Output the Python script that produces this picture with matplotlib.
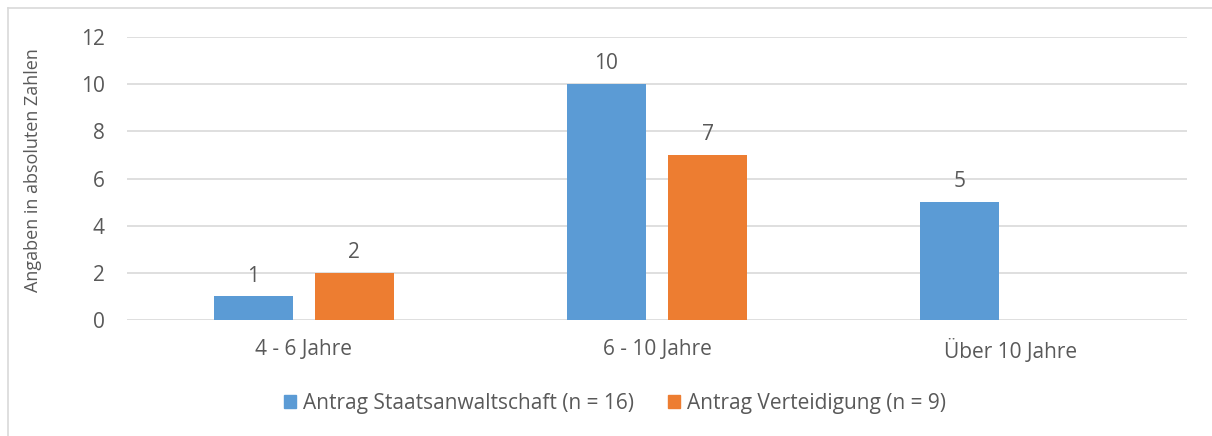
import numpy as np
import matplotlib.pyplot as plt
from matplotlib.lines import Line2D
from matplotlib.patches import Patch

# Data
categories = ["4 - 6 Jahre", "6 - 10 Jahre", "Über 10 Jahre"]
staatsanwaltschaft = [1, 10, 5]
verteidigung = [2, 7, None]
series_names = ["Antrag Staatsanwaltschaft (n = 16)", "Antrag Verteidigung (n = 9)"]
y_ticks = [0, 2, 4, 6, 8, 10, 12]

blue = "#5B9BD5"
orange = "#ED7D31"
text_gray = "#595959"
grid_gray = "#D9D9D9"

plt.rcParams['font.family'] = ['Open Sans', 'DejaVu Sans']

W, H = 1212, 436
fig = plt.figure(figsize=(W / 100, H / 100), dpi=100)
ax = fig.add_axes([127 / W, 1 - 320 / H, (1187 - 127) / W, (320 - 37) / H])

x = np.arange(len(categories))
width = 0.224
offset = 0.143

sa_vals = [v if v is not None else 0 for v in staatsanwaltschaft]
vt_vals = [v if v is not None else 0 for v in verteidigung]
ax.bar(x - offset, sa_vals, width, color=blue, zorder=3)
ax.bar(x + offset, vt_vals, width, color=orange, zorder=3)

# Value labels
for xi, v in zip(x, staatsanwaltschaft):
    if v is not None:
        ax.annotate(str(v), (xi - offset, v), xytext=(0, 7), textcoords="offset points",
                    ha="center", va="bottom", fontsize=15, color=text_gray)
for xi, v in zip(x, verteidigung):
    if v is not None:
        ax.annotate(str(v), (xi + offset, v), xytext=(0, 7), textcoords="offset points",
                    ha="center", va="bottom", fontsize=15, color=text_gray)

ax.set_xlim(-0.5, len(categories) - 0.5)
ax.set_ylim(0, 12)
ax.set_yticks(y_ticks)
ax.set_xticks(x)
ax.set_xticklabels(categories)
ax.tick_params(axis='both', length=0, labelsize=15, labelcolor=text_gray)
ax.tick_params(axis='x', pad=14)
ax.tick_params(axis='y', pad=16)
ax.grid(axis='y', color=grid_gray, linewidth=1.2, zorder=0)
for spine in ax.spines.values():
    spine.set_visible(False)

ax.set_ylabel("Angaben in absoluten Zahlen", fontsize=13, color=text_gray, va="center")
ax.yaxis.set_label_coords((33 - 127) / 1060, 0.53)

# Legend
handles = [Patch(color=blue), Patch(color=orange)]
fig.legend(handles, series_names, loc="center", bbox_to_anchor=(615 / W, 1 - 403 / H),
           ncol=2, frameon=False, fontsize=15, labelcolor=text_gray,
           handlelength=0.6, handleheight=0.6, handletextpad=0.35, columnspacing=1.6)

# Chart border (cut off at right and bottom)
fig.add_artist(Line2D([8 / W, 1], [1 - 8 / H, 1 - 8 / H], color=grid_gray, lw=1.2,
                      transform=fig.transFigure))
fig.add_artist(Line2D([8 / W, 8 / W], [0, 1 - 8 / H], color=grid_gray, lw=1.2,
                      transform=fig.transFigure))

fig.savefig("out.png", dpi=100)
